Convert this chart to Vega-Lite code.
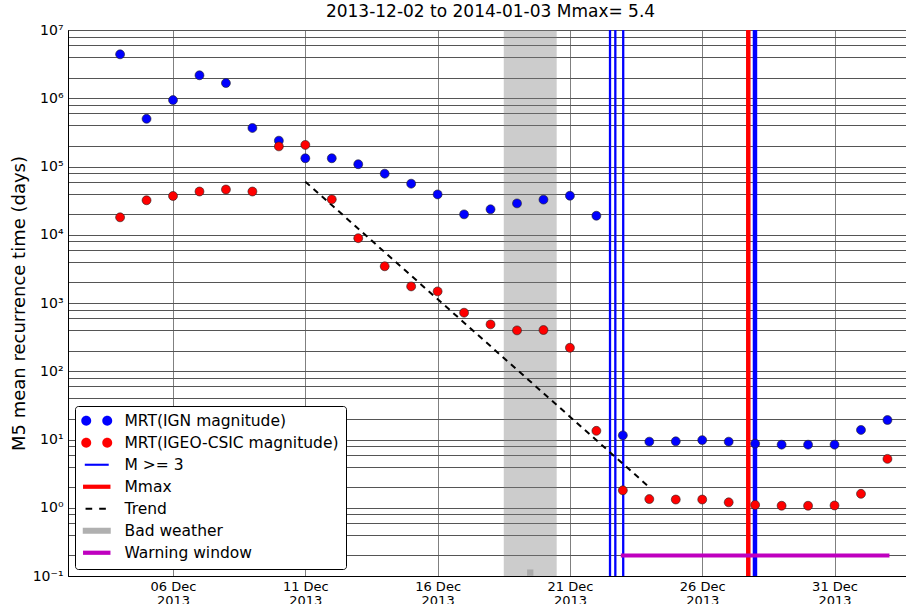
{
  "$schema": "https://vega.github.io/schema/vega-lite/v6.json",
  "width": 839,
  "height": 546,
  "autosize": {"type": "none"},
  "padding": {"left": 68, "top": 30, "right": 0, "bottom": 28},
  "title": {"text": "2013-12-02 to 2014-01-03 Mmax= 5.4", "fontSize": 17, "font": "DejaVu Sans", "fontWeight": "normal", "anchor": "middle", "offset": 2, "dx": 3, "color": "black"},
  "config": {
    "font": "DejaVu Sans",
    "view": {"stroke": "black", "strokeWidth": 1},
    "axis": {"labelColor": "black", "titleColor": "black", "domainColor": "black", "ticks": false, "labelFont": "DejaVu Sans", "titleFont": "DejaVu Sans", "titleFontWeight": "normal"}
  },
  "datasets": {
    "weather": [{"start": "2013-12-18T12:00:00Z", "end": "2013-12-20T12:00:00Z", "mid": "2013-12-19T12:00:00Z", "level": 0.112}],
    "events": [
      {"date": "2013-12-22T12:22:00Z", "type": "M>=3"},
      {"date": "2013-12-22T17:11:00Z", "type": "M>=3"},
      {"date": "2013-12-23T00:20:00Z", "type": "M>=3"},
      {"date": "2013-12-27T22:51:00Z", "type": "M>=3"},
      {"date": "2013-12-28T00:50:00Z", "type": "M>=3"},
      {"date": "2013-12-27T17:46:00Z", "type": "Mmax"}
    ],
    "warning": [{"start": "2013-12-23T00:00:00Z", "end": "2014-01-02T00:00:00Z", "level": 0.2}],
    "trend": [
      {"date": "2013-12-11T00:00:00Z", "mrt": 60000},
      {"date": "2013-12-24T00:00:00Z", "mrt": 2.0}
    ],
    "mrt": [
      {"date": "2013-12-04T00:00:00Z", "ign": 4400000, "igeo": 18000},
      {"date": "2013-12-05T00:00:00Z", "ign": 500000, "igeo": 32000},
      {"date": "2013-12-06T00:00:00Z", "ign": 940000, "igeo": 37000},
      {"date": "2013-12-07T00:00:00Z", "ign": 2170000, "igeo": 43000},
      {"date": "2013-12-08T00:00:00Z", "ign": 1670000, "igeo": 46000},
      {"date": "2013-12-09T00:00:00Z", "ign": 367000, "igeo": 43000},
      {"date": "2013-12-10T00:00:00Z", "ign": 239000, "igeo": 197000},
      {"date": "2013-12-11T00:00:00Z", "ign": 132000, "igeo": 207000},
      {"date": "2013-12-12T00:00:00Z", "ign": 132000, "igeo": 33000},
      {"date": "2013-12-13T00:00:00Z", "ign": 108000, "igeo": 8900},
      {"date": "2013-12-14T00:00:00Z", "ign": 78500, "igeo": 3450},
      {"date": "2013-12-15T00:00:00Z", "ign": 56000, "igeo": 1750},
      {"date": "2013-12-16T00:00:00Z", "ign": 39000, "igeo": 1480},
      {"date": "2013-12-17T00:00:00Z", "ign": 19900, "igeo": 721},
      {"date": "2013-12-18T00:00:00Z", "ign": 23600, "igeo": 486},
      {"date": "2013-12-19T00:00:00Z", "ign": 28800, "igeo": 397},
      {"date": "2013-12-20T00:00:00Z", "ign": 32700, "igeo": 402},
      {"date": "2013-12-21T00:00:00Z", "ign": 37300, "igeo": 221},
      {"date": "2013-12-22T00:00:00Z", "ign": 19000, "igeo": 13.4},
      {"date": "2013-12-23T00:00:00Z", "ign": 11.5, "igeo": 1.8},
      {"date": "2013-12-24T00:00:00Z", "ign": 9.3, "igeo": 1.34},
      {"date": "2013-12-25T00:00:00Z", "ign": 9.4, "igeo": 1.32},
      {"date": "2013-12-26T00:00:00Z", "ign": 9.8, "igeo": 1.32},
      {"date": "2013-12-27T00:00:00Z", "ign": 9.3, "igeo": 1.2},
      {"date": "2013-12-28T00:00:00Z", "ign": 8.7, "igeo": 1.1},
      {"date": "2013-12-29T00:00:00Z", "ign": 8.4, "igeo": 1.07},
      {"date": "2013-12-30T00:00:00Z", "ign": 8.4, "igeo": 1.07},
      {"date": "2013-12-31T00:00:00Z", "ign": 8.4, "igeo": 1.08},
      {"date": "2014-01-01T00:00:00Z", "ign": 13.8, "igeo": 1.6},
      {"date": "2014-01-02T00:00:00Z", "ign": 19.3, "igeo": 5.2}
    ],
    "legend": [
      {"series": "MRT(IGN magnitude)"},
      {"series": "MRT(IGEO-CSIC magnitude)"},
      {"series": "M >= 3"},
      {"series": "Mmax"},
      {"series": "Trend"},
      {"series": "Bad weather"},
      {"series": "Warning window"}
    ]
  },
  "layer": [
    {
      "data": {"name": "weather"},
      "mark": {"type": "rect", "fill": "#808080", "opacity": 0.4},
      "encoding": {
        "x": {
          "field": "start", "type": "temporal",
          "scale": {"type": "utc", "domain": [{"year": 2013, "month": 12, "date": 2, "hours": 0, "minutes": 45, "utc": true}, {"year": 2014, "month": 1, "date": 2, "hours": 17, "minutes": 44, "utc": true}]},
          "title": null,
          "axis": {
            "values": [
              {"year": 2013, "month": 12, "date": 6, "utc": true},
              {"year": 2013, "month": 12, "date": 11, "utc": true},
              {"year": 2013, "month": 12, "date": 16, "utc": true},
              {"year": 2013, "month": 12, "date": 21, "utc": true},
              {"year": 2013, "month": 12, "date": 26, "utc": true},
              {"year": 2013, "month": 12, "date": 31, "utc": true}
            ],
            "labelExpr": "[utcFormat(datum.value, '%d %b'), utcFormat(datum.value, '%Y')]",
            "labelFontSize": 13, "labelLineHeight": 14, "labelPadding": 4,
            "labelAlign": "center", "labelFlush": false, "labelOverlap": false,
            "grid": true, "gridColor": "#808080", "gridOpacity": 1, "domain": true
          }
        },
        "x2": {"field": "end"}
      }
    },
    {
      "data": {"name": "weather"},
      "mark": {"type": "point", "shape": "square", "filled": true, "size": 40, "fill": "#aaaaaa", "opacity": 1, "clip": true},
      "encoding": {
        "x": {"field": "mid", "type": "temporal"},
        "y": {
          "field": "level", "type": "quantitative",
          "scale": {"type": "log", "domain": [0.1, 10000000], "nice": false},
          "title": "M5 mean recurrence time (days)",
          "axis": {
            "values": [0.1,0.2,0.4,0.6,0.8,1,2,4,6,8,10,20,40,60,80,100,200,400,600,800,1000,2000,4000,6000,8000,10000,20000,40000,60000,80000,100000,200000,400000,600000,800000,1000000,2000000,4000000,6000000,8000000,10000000],
            "labelExpr": "abs(log(datum.value)/LN10 - round(log(datum.value)/LN10)) < 0.001 ? '10' + ['⁻¹','⁰','¹','²','³','⁴','⁵','⁶','⁷'][round(log(datum.value)/LN10) + 1] : ''",
            "labelFontSize": 14, "labelPadding": 5, "labelFlush": false, "labelOverlap": false,
            "grid": true, "gridColor": "#555555", "gridOpacity": 1,
            "titleFontSize": 18, "titlePadding": 4
          }
        }
      }
    },
    {
      "data": {"name": "events"},
      "transform": [{"filter": "datum.type === 'M>=3'"}],
      "mark": {"type": "rule", "stroke": "#0000ff", "strokeWidth": 2.3},
      "encoding": {"x": {"field": "date", "type": "temporal"}}
    },
    {
      "data": {"name": "events"},
      "transform": [{"filter": "datum.type === 'Mmax'"}],
      "mark": {"type": "rule", "stroke": "#ff0000", "strokeWidth": 4.5},
      "encoding": {"x": {"field": "date", "type": "temporal"}}
    },
    {
      "data": {"name": "warning"},
      "mark": {"type": "rule", "stroke": "#bf00bf", "strokeWidth": 4, "strokeCap": "square"},
      "encoding": {
        "x": {"field": "start", "type": "temporal"},
        "x2": {"field": "end"},
        "y": {"field": "level", "type": "quantitative", "title": "M5 mean recurrence time (days)"}
      }
    },
    {
      "data": {"name": "trend"},
      "mark": {"type": "line", "stroke": "#000000", "strokeWidth": 2, "strokeDash": [6, 5]},
      "encoding": {
        "x": {"field": "date", "type": "temporal"},
        "y": {"field": "mrt", "type": "quantitative", "title": "M5 mean recurrence time (days)"}
      }
    },
    {
      "data": {"name": "mrt"},
      "mark": {"type": "point", "filled": true, "size": 80, "fill": "#0000ff", "stroke": "#222222", "strokeWidth": 0.6, "opacity": 1},
      "encoding": {
        "x": {"field": "date", "type": "temporal"},
        "y": {"field": "ign", "type": "quantitative", "title": "M5 mean recurrence time (days)"}
      }
    },
    {
      "data": {"name": "mrt"},
      "mark": {"type": "point", "filled": true, "size": 80, "fill": "#ff0000", "stroke": "#222222", "strokeWidth": 0.6, "opacity": 1},
      "encoding": {
        "x": {"field": "date", "type": "temporal"},
        "y": {"field": "igeo", "type": "quantitative", "title": "M5 mean recurrence time (days)"}
      }
    },
    {
      "data": {"name": "legend"},
      "mark": {"type": "point", "filled": true, "opacity": 0},
      "encoding": {
        "color": {
          "field": "series", "type": "nominal", "sort": null,
          "scale": {
            "domain": ["MRT(IGN magnitude)", "MRT(IGEO-CSIC magnitude)", "M >= 3", "Mmax", "Trend", "Bad weather", "Warning window"],
            "range": ["#0000ff", "#ff0000", "#0000ff", "#ff0000", "#000000", "#b0b0b0", "#bf00bf"]
          },
          "legend": {
            "title": null, "orient": "none", "legendX": 7, "legendY": 376,
            "labelFontSize": 15.5, "labelFont": "DejaVu Sans", "labelColor": "black", "labelLimit": 400,
            "symbolSize": 196, "symbolOpacity": 1, "symbolStrokeWidth": 0,
            "rowPadding": 5, "padding": 7, "strokeColor": "black", "fillColor": "white", "cornerRadius": 3,
            "labelOffset": 20, "symbolOffset": 7
          }
        },
        "shape": {
          "field": "series", "type": "nominal", "sort": null,
          "scale": {
            "domain": ["MRT(IGN magnitude)", "MRT(IGEO-CSIC magnitude)", "M >= 3", "Mmax", "Trend", "Bad weather", "Warning window"],
            "range": [
              "M-2.21,0A0.71,0.71 0 1,0 -0.79,0A0.71,0.71 0 1,0 -2.21,0Z M0.79,0A0.71,0.71 0 1,0 2.21,0A0.71,0.71 0 1,0 0.79,0Z",
              "M-2.21,0A0.71,0.71 0 1,0 -0.79,0A0.71,0.71 0 1,0 -2.21,0Z M0.79,0A0.71,0.71 0 1,0 2.21,0A0.71,0.71 0 1,0 0.79,0Z",
              "M-1.71,-0.15H1.71V0.15H-1.71Z",
              "M-1.96,-0.3H1.96V0.3H-1.96Z",
              "M-1.6,-0.15H-0.65V0.15H-1.6Z M0.35,-0.15H1.3V0.15H0.35Z",
              "M-2,-0.43H2V0.43H-2Z",
              "M-1.96,-0.3H1.96V0.3H-1.96Z"
            ]
          },
          "legend": {
            "title": null, "orient": "none", "legendX": 7, "legendY": 376,
            "labelFontSize": 15.5, "labelFont": "DejaVu Sans", "labelColor": "black", "labelLimit": 400,
            "symbolSize": 196, "symbolOpacity": 1, "symbolStrokeWidth": 0,
            "rowPadding": 5, "padding": 7, "strokeColor": "black", "fillColor": "white", "cornerRadius": 3,
            "labelOffset": 20, "symbolOffset": 7
          }
        }
      }
    }
  ]
}
